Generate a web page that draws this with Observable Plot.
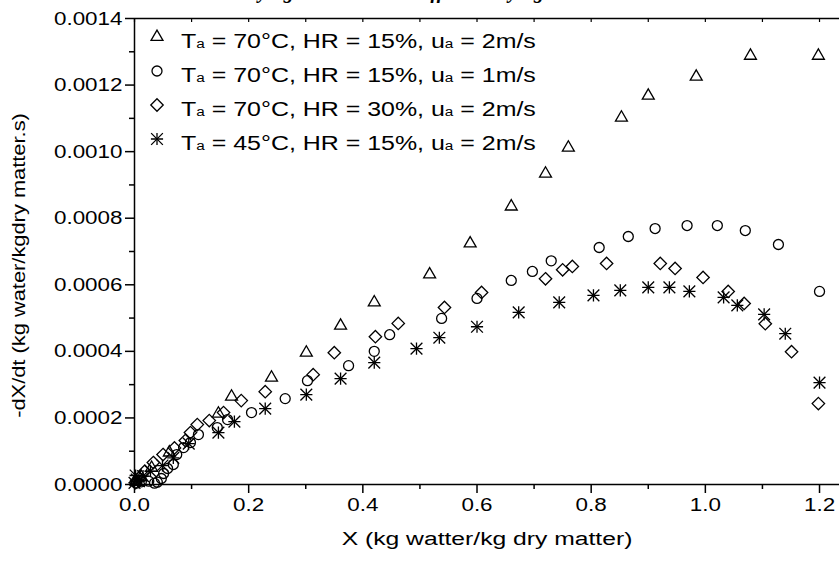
<!DOCTYPE html>
<html>
<head>
<meta charset="utf-8">
<script src="https://cdn.jsdelivr.net/npm/d3@7"></script>
<script src="https://cdn.jsdelivr.net/npm/@observablehq/plot@0.6"></script>
<style>
  html, body { margin: 0; padding: 0; background: #fff; }
  #chart { width: 840px; height: 568px; overflow: hidden; position: relative; }
  #chart svg { display: block; }
</style>
</head>
<body>
<div id="chart"></div>
<script>
// ---------- text ----------
const titleText = "Drying rate curves at different drying conditions";
const xLabel = "X (kg watter/kg dry matter)";
const yLabel = "-dX/dt (kg water/kgdry matter.s)";
const legendTemp = ["70°C", "70°C", "70°C", "45°C"];
const legendHR = ["15%", "15%", "30%", "15%"];
const legendU = ["2m/s", "1m/s", "2m/s", "2m/s"];

// ---------- ticks ----------
const xTicks = [0, 0.2, 0.4, 0.6, 0.8, 1.0, 1.2];
const xMinorTicks = [0.1, 0.3, 0.5, 0.7, 0.9, 1.1];
const yTicks = [0, 0.0002, 0.0004, 0.0006, 0.0008, 0.0010, 0.0012, 0.0014];
const yMinorTicks = [0.0001, 0.0003, 0.0005, 0.0007, 0.0009, 0.0011, 0.0013];

// ---------- data ----------
// Ta = 70°C, HR = 15%, ua = 2m/s (triangles)
const triX = [0.003, 0.012, 0.030, 0.061, 0.147, 0.170, 0.240, 0.301, 0.361, 0.420, 0.517, 0.588, 0.660, 0.720, 0.760, 0.853, 0.900, 0.984, 1.079, 1.198];
const triY = [0.000008, 0.000022, 0.000050, 0.000096, 0.000213, 0.000264, 0.000321, 0.000396, 0.000477, 0.000547, 0.000631, 0.000724, 0.000835, 0.000934, 0.001012, 0.001102, 0.001168, 0.001225, 0.001288, 0.001288];
// Ta = 70°C, HR = 15%, ua = 1m/s (circles)
const cirX = [0.003, 0.012, 0.025, 0.035, 0.040, 0.047, 0.051, 0.058, 0.068, 0.074, 0.086, 0.098, 0.112, 0.145, 0.163, 0.205, 0.264, 0.303, 0.375, 0.420, 0.447, 0.538, 0.600, 0.660, 0.697, 0.730, 0.814, 0.865, 0.912, 0.968, 1.021, 1.070, 1.128, 1.200];
const cirY = [0.000004, 0.000008, 0.000010, 0.000004, 0.000007, 0.000018, 0.000033, 0.000048, 0.000060, 0.000090, 0.000111, 0.000126, 0.000150, 0.000171, 0.000195, 0.000216, 0.000258, 0.000312, 0.000357, 0.000400, 0.000450, 0.000499, 0.000559, 0.000613, 0.000640, 0.000672, 0.000712, 0.000745, 0.000769, 0.000778, 0.000778, 0.000763, 0.000721, 0.000580];
// Ta = 70°C, HR = 30%, ua = 2m/s (diamonds)
const diaX = [0.002, 0.008, 0.018, 0.033, 0.050, 0.070, 0.089, 0.098, 0.110, 0.131, 0.156, 0.187, 0.229, 0.313, 0.350, 0.422, 0.462, 0.543, 0.608, 0.720, 0.750, 0.767, 0.827, 0.921, 0.947, 0.996, 1.040, 1.068, 1.105, 1.151, 1.198];
const diaY = [0.000006, 0.000020, 0.000040, 0.000066, 0.000090, 0.000110, 0.000132, 0.000156, 0.000180, 0.000192, 0.000216, 0.000252, 0.000279, 0.000330, 0.000396, 0.000444, 0.000484, 0.000532, 0.000577, 0.000618, 0.000645, 0.000655, 0.000664, 0.000664, 0.000649, 0.000622, 0.000580, 0.000544, 0.000483, 0.000399, 0.000243];
// Ta = 45°C, HR = 15%, ua = 2m/s (stars)
const starX = [0.000, 0.002, 0.004, 0.008, 0.015, 0.028, 0.049, 0.068, 0.095, 0.147, 0.175, 0.229, 0.301, 0.361, 0.420, 0.494, 0.534, 0.600, 0.673, 0.744, 0.804, 0.851, 0.900, 0.937, 0.972, 1.032, 1.056, 1.103, 1.140, 1.200];
const starY = [0.000005, 0.000027, 0.000015, 0.000010, 0.000025, 0.000040, 0.000057, 0.000080, 0.000123, 0.000156, 0.000189, 0.000228, 0.000270, 0.000318, 0.000366, 0.000408, 0.000441, 0.000474, 0.000517, 0.000547, 0.000568, 0.000583, 0.000592, 0.000592, 0.000580, 0.000562, 0.000538, 0.000511, 0.000453, 0.000306];

// ---------- build ----------
const FONT = "'Liberation Sans', Arial, sans-serif";
const FS = 19;
const SX_TICK = 1.18;   // horizontal stretch of the reference lettering
const SX_XLAB = 1.3;
const SX_YLAB = 1.15;
const SX_LEG = 1.28;

const toRows = (xs, ys) => xs.map((x, i) => ({x, y: ys[i]}));
// each series: list of [plot symbol, d3 symbol, r] layers drawn on top of each other
const series = [
  {rows: toRows(triX, triY), layers: [["triangle2", d3.symbolTriangle2, 5.7]]},
  {rows: toRows(cirX, cirY), layers: [["circle", d3.symbolCircle, 5.0]]},
  {rows: toRows(diaX, diaY), layers: [["diamond2", d3.symbolDiamond2, 5.6]]},
  {rows: toRows(starX, starY), layers: [["plus", d3.symbolPlus, 4.0], ["times", d3.symbolTimes, 5.4]]}
];

const blank = () => "";
const plot = Plot.plot({
  width: 840,
  height: 568,
  marginLeft: 134,
  marginRight: 1,
  marginTop: 18,
  marginBottom: 84,
  style: {fontFamily: FONT, fontSize: FS + "px", color: "#000", background: "#fff", overflow: "visible"},
  x: {domain: [0, 1.235], axis: null},
  y: {domain: [0, 0.0014], axis: null},
  marks: [
    Plot.axisX(xTicks, {anchor: "bottom", tickSize: 9, tickPadding: 4, tickFormat: d3.format(".1f"), strokeWidth: 1.5, label: null, fontSize: FS}),
    Plot.axisX(xMinorTicks, {anchor: "bottom", tickSize: 5, tickFormat: blank, strokeWidth: 1.5, label: null}),
    Plot.axisX(xTicks.concat(xMinorTicks), {anchor: "top", tickSize: 3, dy: 3, tickFormat: blank, strokeWidth: 1.2, label: null}),
    Plot.axisY(yTicks, {anchor: "left", tickSize: 9, tickPadding: 3, tickFormat: d3.format(".4f"), strokeWidth: 1.5, label: null, fontSize: FS}),
    Plot.axisY(yMinorTicks, {anchor: "left", tickSize: 5, tickFormat: blank, strokeWidth: 1.5, label: null}),
    Plot.ruleY([0], {stroke: "#000", strokeWidth: 1.5}),
    Plot.ruleY([0.0014], {stroke: "#000", strokeWidth: 1.5}),
    Plot.ruleX([0], {stroke: "#000", strokeWidth: 1.5}),
    ...series.flatMap(s => s.layers.map(([sym, , r]) =>
      Plot.dot(s.rows, {x: "x", y: "y", symbol: sym, r, stroke: "#000", strokeWidth: 1.3, fill: "none"}))),
    Plot.text([xLabel], {text: d => d, frameAnchor: "bottom", textAnchor: "middle", dy: 60, fontSize: FS, className: "xlab"}),
    Plot.text([yLabel], {text: d => d, frameAnchor: "left", textAnchor: "middle", rotate: -90, dx: -116, dy: 14, fontSize: FS, className: "ylab"})
  ]
});

document.getElementById("chart").appendChild(plot);
const svg = d3.select(plot);

// stretch lettering horizontally like the reference
svg.selectAll("text").each(function () {
  const t = this.getAttribute("transform");
  if (!t || this.textContent.trim() === "") return;
  const cls = (this.parentNode.getAttribute("class") || "");
  const s = cls.includes("xlab") ? SX_XLAB : cls.includes("ylab") ? SX_YLAB : SX_TICK;
  this.setAttribute("transform", t + ` scale(${s},1)`);
});

// title (cut off by the top edge, as in the reference)
svg.append("text")
  .attr("x", 236).attr("y", -2)
  .attr("text-anchor", "start")
  .attr("font-family", "'Liberation Serif', 'Times New Roman', serif")
  .attr("font-weight", "bold").attr("font-style", "italic")
  .attr("font-size", 20)
  .text(titleText);

// legend
const lg = svg.append("g").attr("font-family", FONT).attr("font-size", FS + 0.5).attr("fill", "#000");
series.forEach((s, i) => {
  const cy = 37 + 34 * i;
  s.layers.forEach(([, d3sym, r]) => {
    lg.append("path")
      .attr("transform", `translate(157,${cy})`)
      .attr("d", d3.symbol(d3sym, Math.PI * r * r)())
      .attr("fill", "none").attr("stroke", "#000").attr("stroke-width", 1.3);
  });
  const t = lg.append("text")
    .attr("text-anchor", "start")
    .attr("transform", `translate(181,${cy + 11}) scale(${SX_LEG},1)`);
  t.append("tspan").text("T");
  t.append("tspan").attr("font-size", 12).text("a");
  t.append("tspan").text(` = ${legendTemp[i]}, HR = ${legendHR[i]}, u`);
  t.append("tspan").attr("font-size", 12).text("a");
  t.append("tspan").text(` = ${legendU[i]}`);
});
</script>
</body>
</html>
